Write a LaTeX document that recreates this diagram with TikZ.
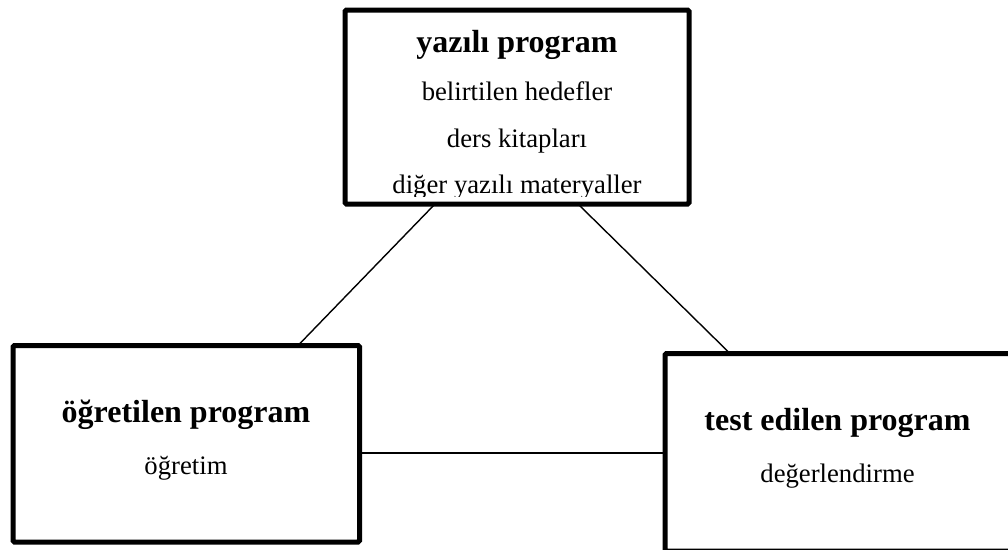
\documentclass[tikz,border=0pt]{standalone}
\usepackage{fontspec}
\setmainfont{Liberation Serif}
\begin{document}
\begin{tikzpicture}[x=1pt,y=-1pt,
  frame/.style={draw=black, line width=5pt, rounded corners=1.5pt,
                inner sep=0pt, outer sep=0pt},
  link/.style={draw=black, line width=1.4pt},
  title/.style={font=\fontsize{32}{38}\selectfont\bfseries, anchor=base, inner sep=0pt},
  item/.style={font=\fontsize{26.7}{32}\selectfont, anchor=base, inner sep=0pt}]
\useasboundingbox (0,0) rectangle (1008,549);
\clip (0,0) rectangle (1008,549);

% the three program boxes
\node[frame, minimum width=344pt, minimum height=194pt] (written) at (517,107) {};
\node[frame, minimum width=346.5pt, minimum height=196.5pt] (taught) at (186.25,443.75) {};
\node[frame, minimum width=350pt, minimum height=197.5pt] (tested) at (840,452.25) {};

% written program
\node[title] (wtitle) at (517,52) {yazılı program};
\node[item] (witem1) at (517,100) {belirtilen hedefler};
\node[item] (witem2) at (517,147) {ders kitapları};
\begin{scope}
  \clip (written.north west) rectangle ([yshift=7.5pt]written.south east);
  \node[item] (witem3) at (517,193) {diğer yazılı materyaller};
\end{scope}

% taught program
\node[title] (ttitle) at (186,422) {öğretilen program};
\node[item] (titem) at (186,474) {öğretim};

% tested program
\node[title] (stitle) at (837.5,430) {test edilen program};
\node[item] (sitem) at (837.5,482) {değerlendirme};

% connectors
\draw[link] ([xshift=90pt]written.south west) -- ([xshift=285pt]taught.north west);
\draw[link] ([xshift=233pt]written.south west) -- ([xshift=65pt]tested.north west);
\draw[link] ([yshift=-9.25pt]taught.east) -- ([yshift=-0.75pt]tested.west);
\end{tikzpicture}
\end{document}
